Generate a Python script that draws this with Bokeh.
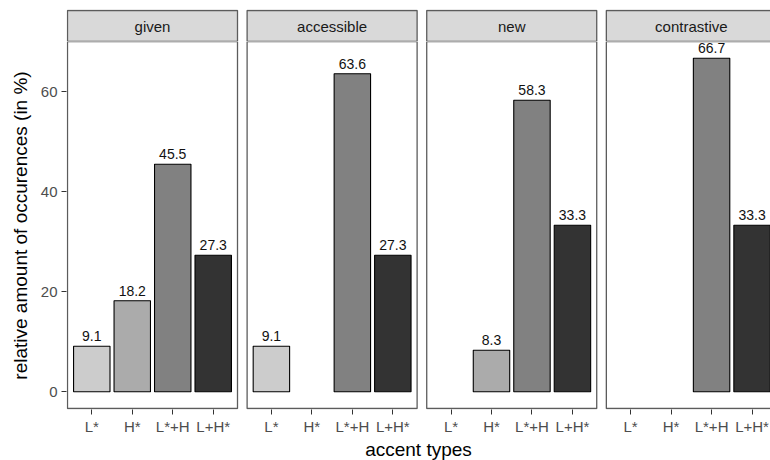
from bokeh.plotting import figure
from bokeh.layouts import column
from bokeh.models import Range1d, FixedTicker, ColumnDataSource
from bokeh.embed import file_html
from bokeh.resources import INLINE
from bokeh.core.properties import value

# ---------------- data ----------------
facets = ["given", "accessible", "new", "contrastive"]
accents = ["L*", "H*", "L*+H", "L+H*"]
given = [9.1, 18.2, 45.5, 27.3]
accessible = [9.1, None, 63.6, 27.3]
new = [None, 8.3, 58.3, 33.3]
contrastive = [None, None, 66.7, 33.3]
fill_colors = ["#CCCCCC", "#ABABAB", "#818181", "#333333"]
y_ticks = [0, 20, 40, 60]
x_title = "accent types"
y_title = "relative amount of occurences (in %)"
series = [given, accessible, new, contrastive]

# ---------------- layout ----------------
FONT = "Liberation Sans"
PANEL_W = 170.0
PANEL_H = 367.0
STRIP_H = 31.0
LEFT = 66
FRAME_W = 704
PITCH = 4.4375            # panel width (4.2 units) + gap between panels
KX = PANEL_W / 4.2        # px per x unit
BORDER = "#5c5c5c"

all_vals = [v for s in series for v in s if v is not None]
ymax = max(all_vals)
pad = 0.05 * ymax
y0, y1 = -pad, ymax + pad
KY = PANEL_H / (y1 - y0)

x_start = 0.4 - 1.0 / KX
x_range = Range1d(x_start, x_start + FRAME_W / KX)
lefts = [k * PITCH + 0.4 for k in range(len(facets))]
rights = [k * PITCH + 4.6 for k in range(len(facets))]

# ---------------- strip figure ----------------
s = figure(frame_width=FRAME_W, frame_height=int(STRIP_H) + 1, x_range=x_range,
           y_range=Range1d(0, STRIP_H + 1), x_axis_type=None, y_axis_type=None,
           output_backend="svg", toolbar_location=None,
           min_border_left=LEFT, min_border_right=0, min_border_top=9, min_border_bottom=0,
           background_fill_color="white", border_fill_color="white")
s.outline_line_color = None
s.grid.visible = False
s.quad(left=lefts, right=rights, bottom=0, top=STRIP_H,
       fill_color="#D9D9D9", line_color=BORDER, line_width=1.3)
s.text(x=[k * PITCH + 2.5 for k in range(len(facets))], y=[STRIP_H / 2] * len(facets),
       text=facets, text_align="center", text_baseline="middle", text_font=value(FONT),
       text_font_size="15px", text_color="#1a1a1a")

# ---------------- main figure ----------------
p = figure(frame_width=FRAME_W, frame_height=int(PANEL_H) + 1, x_range=x_range,
           y_range=Range1d(y0 - 1.0 / KY, y1),
           output_backend="svg", toolbar_location=None,
           min_border_left=LEFT, min_border_right=0, min_border_top=0, min_border_bottom=51,
           background_fill_color="white", border_fill_color="white")
p.outline_line_color = None
p.xgrid.visible = False
p.ygrid.visible = False

xs, tops, cols, labs = [], [], [], []
for k, ser in enumerate(series):
    for i, v in enumerate(ser):
        if v is None:
            continue
        xs.append(k * PITCH + i + 1)
        tops.append(v)
        cols.append(fill_colors[i])
        labs.append(f"{v:.1f}")
src = ColumnDataSource(dict(x=xs, top=tops, color=cols, label=labs))
p.vbar(x="x", top="top", bottom=0, width=0.9, fill_color="color", line_color="black",
       line_width=1.1, source=src)
p.text(x="x", y="top", text="label", source=src, text_align="center",
       text_baseline="alphabetic", y_offset=-10, text_font=value(FONT),
       text_font_size="14px", text_color="#111111")

p.quad(left=lefts, right=rights, bottom=y0, top=y1,
       fill_color=None, line_color=BORDER, line_width=1.3)

xticks = [k * PITCH + i + 1 for k in range(len(facets)) for i in range(len(accents))]
p.xaxis.ticker = FixedTicker(ticks=xticks)
p.xaxis.major_label_overrides = {t: accents[j % len(accents)] for j, t in enumerate(xticks)}
p.yaxis.ticker = FixedTicker(ticks=y_ticks)
for ax in (p.xaxis, p.yaxis):
    ax.axis_line_color = None
    ax.major_tick_in = 0
    ax.major_tick_out = 5
    ax.major_tick_line_color = "#333333"
    ax.major_tick_line_width = 1
    ax.minor_tick_line_color = None
    ax.major_label_text_font = FONT
    ax.major_label_text_font_size = "15px"
    ax.major_label_text_color = "#4d4d4d"
    ax.axis_label_text_font = FONT
    ax.axis_label_text_font_size = "19px"
    ax.axis_label_text_font_style = "normal"
    ax.axis_label_text_color = "black"
p.xaxis.major_label_standoff = 3
p.yaxis.major_label_standoff = 4
p.xaxis.axis_label = x_title
p.xaxis.axis_label_standoff = 1
p.yaxis.axis_label = y_title
p.yaxis.axis_label_standoff = 7

layout = column(s, p, spacing=0)
open("out.html", "w").write(file_html(layout, INLINE))
